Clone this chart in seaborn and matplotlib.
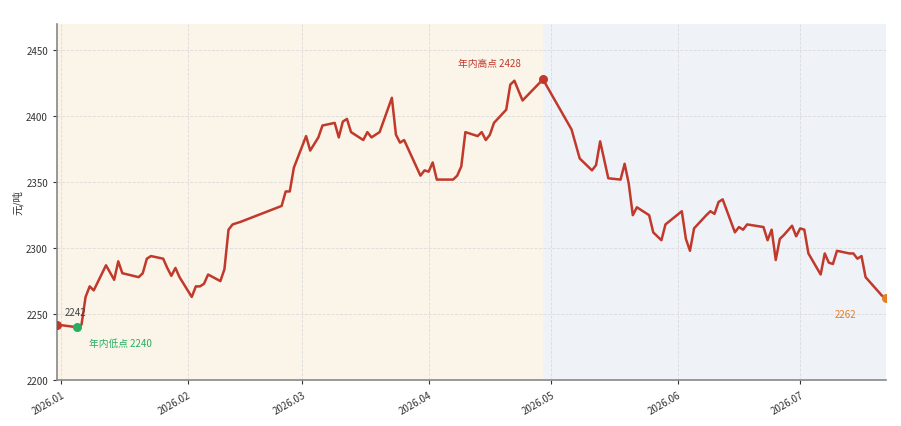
import matplotlib
matplotlib.use("Agg")
import matplotlib.pyplot as plt
import matplotlib.dates as mdates
import numpy as np
import pandas as pd
import seaborn as sns

dates = [
    "2025-12-31", "2026-01-05", "2026-01-06", "2026-01-07", "2026-01-08", "2026-01-09",
    "2026-01-12", "2026-01-14", "2026-01-15", "2026-01-16", "2026-01-20", "2026-01-21",
    "2026-01-22", "2026-01-23", "2026-01-26", "2026-01-27", "2026-01-28", "2026-01-29",
    "2026-01-30", "2026-02-02", "2026-02-03", "2026-02-04", "2026-02-05", "2026-02-06",
    "2026-02-09", "2026-02-10", "2026-02-11", "2026-02-12", "2026-02-14", "2026-02-24",
    "2026-02-25", "2026-02-26", "2026-02-27", "2026-03-02", "2026-03-03", "2026-03-04",
    "2026-03-05", "2026-03-06", "2026-03-09", "2026-03-10", "2026-03-11", "2026-03-12",
    "2026-03-13", "2026-03-16", "2026-03-17", "2026-03-18", "2026-03-20", "2026-03-23",
    "2026-03-24", "2026-03-25", "2026-03-26", "2026-03-30", "2026-03-31", "2026-04-01",
    "2026-04-02", "2026-04-03", "2026-04-07", "2026-04-08", "2026-04-09", "2026-04-10",
    "2026-04-13", "2026-04-14", "2026-04-15", "2026-04-16", "2026-04-17", "2026-04-20",
    "2026-04-21", "2026-04-22", "2026-04-24", "2026-04-29", "2026-05-06", "2026-05-08",
    "2026-05-11", "2026-05-12", "2026-05-13", "2026-05-15", "2026-05-18", "2026-05-19",
    "2026-05-20", "2026-05-21", "2026-05-22", "2026-05-25", "2026-05-26", "2026-05-28",
    "2026-05-29", "2026-06-02", "2026-06-03", "2026-06-04", "2026-06-05", "2026-06-08",
    "2026-06-09", "2026-06-10", "2026-06-11", "2026-06-12", "2026-06-15", "2026-06-16",
    "2026-06-17", "2026-06-18", "2026-06-22", "2026-06-23", "2026-06-24", "2026-06-25",
    "2026-06-26", "2026-06-27", "2026-06-29", "2026-06-30", "2026-07-01", "2026-07-02",
    "2026-07-03", "2026-07-06", "2026-07-07", "2026-07-08", "2026-07-09", "2026-07-10",
    "2026-07-13", "2026-07-14", "2026-07-15", "2026-07-16", "2026-07-17", "2026-07-21",
    "2026-07-22",
]
prices = [
    2242, 2240, 2242, 2263, 2271, 2268,
    2287, 2276, 2290, 2281, 2278, 2281,
    2292, 2294, 2292, 2285, 2279, 2285,
    2278, 2263, 2271, 2271, 2273, 2280,
    2275, 2284, 2314, 2318, 2320, 2332,
    2343, 2343, 2361, 2385, 2374, 2379,
    2384, 2393, 2395, 2384, 2396, 2398,
    2388, 2382, 2388, 2384, 2388, 2414,
    2386, 2380, 2382, 2355, 2359, 2358,
    2365, 2352, 2352, 2355, 2362, 2388,
    2385, 2388, 2382, 2386, 2395, 2405,
    2424, 2427, 2412, 2428, 2390, 2368,
    2359, 2363, 2381, 2353, 2352, 2364,
    2349, 2325, 2331, 2325, 2312, 2306,
    2318, 2328, 2307, 2298, 2315, 2325,
    2328, 2326, 2335, 2337, 2312, 2316,
    2314, 2318, 2316, 2306, 2314, 2291,
    2307, 2310, 2317, 2309, 2315, 2314,
    2296, 2280, 2296, 2289, 2288, 2298,
    2296, 2296, 2292, 2294, 2278, 2264,
    2262,
]
month_ticks = ["2026-01-01", "2026-02-01", "2026-03-01", "2026-04-01",
               "2026-05-01", "2026-06-01", "2026-07-01"]
month_labels = ["2026.01", "2026.02", "2026.03", "2026.04", "2026.05", "2026.06", "2026.07"]
y_ticks = [2200, 2250, 2300, 2350, 2400, 2450]
y_label = "元/吨"
low_label = "年内低点"
high_label = "年内高点"

df = pd.DataFrame({"date": pd.to_datetime(dates), "price": prices})

sns.set_theme(style="white")
plt.rcParams["font.family"] = ["Noto Sans CJK SC", "DejaVu Sans"]
plt.rcParams["axes.unicode_minus"] = False

fig = plt.figure(figsize=(9.01, 4.27), dpi=100)
ax = fig.add_axes([57 / 901, 1 - 381 / 427, (886 - 57) / 901, (381 - 25) / 427])

x0, x1 = df["date"].iloc[0], df["date"].iloc[-1]
i_hi = int(df["price"].idxmax())
i_lo = int(df["price"].idxmin())
hi_date = df["date"].iloc[i_hi]

ax.axvspan(x0, hi_date, color="#fbf4e9", zorder=0, lw=0)
ax.axvspan(hi_date, x1, color="#eff3f8", zorder=0, lw=0)

sns.lineplot(data=df, x="date", y="price", ax=ax, color="#c0392b", lw=1.8, zorder=3)

first = df.iloc[0]
last = df.iloc[-1]
ax.scatter([first["date"]], [first["price"]], s=30, color="#c0392b", zorder=4, clip_on=True)
ax.scatter([df["date"].iloc[i_lo]], [df["price"].iloc[i_lo]], s=30, color="#27ae60", zorder=4)
ax.scatter([hi_date], [df["price"].iloc[i_hi]], s=30, color="#c0392b", zorder=4)
ax.scatter([last["date"]], [last["price"]], s=30, color="#e67e22", zorder=4, clip_on=True)

ax.annotate(f"{first['price']}", (first["date"], first["price"]), xytext=(13, 9),
            textcoords="offset points", ha="center", va="center", fontsize=7, color="#444444")
ax.annotate(f"{low_label} {df['price'].iloc[i_lo]}", (df["date"].iloc[i_lo], df["price"].iloc[i_lo]),
            xytext=(8, -11), textcoords="offset points", ha="left", va="center",
            fontsize=7, color="#27ae60")
ax.annotate(f"{high_label} {df['price'].iloc[i_hi]}", (hi_date, df["price"].iloc[i_hi]),
            xytext=(-16, 11.5), textcoords="offset points", ha="right", va="center",
            fontsize=7, color="#c0392b")
ax.annotate(f"{last['price']}", (last["date"], last["price"]), xytext=(-29.5, -11.5),
            textcoords="offset points", ha="center", va="center", fontsize=7, color="#e67e22")

ax.set_xlim(x0, x1)
ax.set_ylim(2200, 2470)
ax.set_yticks(y_ticks)
ax.set_xticks(pd.to_datetime(month_ticks))
ax.set_xticklabels(month_labels, rotation=30, ha="right", rotation_mode="anchor")
ax.tick_params(axis="both", labelsize=7, colors="#333333", length=3, width=0.8,
               bottom=True, left=True)
ax.set_xlabel("")
ax.set_ylabel(y_label, fontsize=7.5, color="#333333", labelpad=2)

ax.grid(True, linestyle="--", color="#d5d5d5", lw=0.6, alpha=0.8)
ax.set_axisbelow(True)
for s in ["top", "right"]:
    ax.spines[s].set_visible(False)
for s in ["left", "bottom"]:
    ax.spines[s].set_color("#888888")
    ax.spines[s].set_linewidth(1.2)

fig.savefig("out.png", dpi=100)
